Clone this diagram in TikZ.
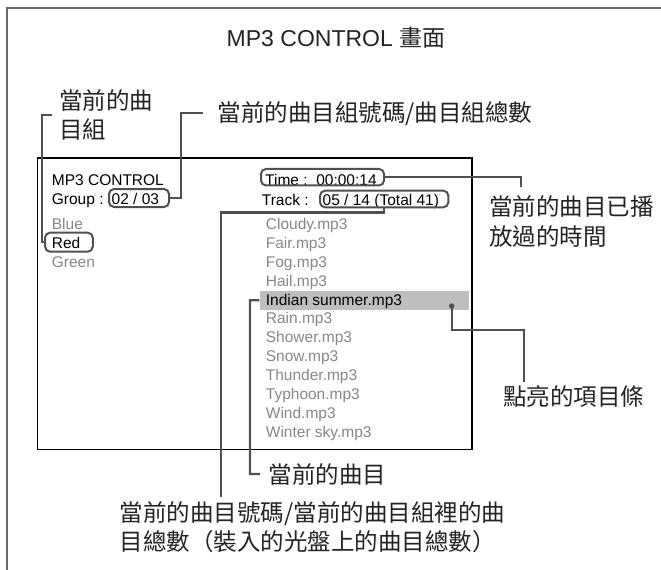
\documentclass[tikz,border=0pt]{standalone}
\usepackage{fontspec}
\setmainfont{Liberation Sans}
\newfontfamily\cjk{Noto Sans CJK TC}
\definecolor{leadc}{RGB}{80,80,80}
\definecolor{framec}{RGB}{105,105,105}
\definecolor{listgray}{RGB}{135,135,135}
\definecolor{hlgray}{RGB}{190,190,190}
\definecolor{labc}{RGB}{35,35,35}
\begin{document}
\begin{tikzpicture}[x=1pt,y=-1pt,
  lead/.style={draw=leadc, line width=2.3pt},
  scr/.style={font=\fontsize{15.5}{18}\selectfont, inner sep=0pt, anchor=base west},
  dim/.style={scr, text=listgray},
  lab/.style={font=\cjk\fontsize{23.5}{30}\selectfont, inner sep=0pt, anchor=base west, text=labc},
  rbox/.style={draw=leadc, line width=2pt, rounded corners=5pt, inner sep=0pt}]
\useasboundingbox (0,0) rectangle (661,570);
% outer frame
\draw[draw=framec, line width=2pt] (661,7.5) -- (6.5,7.5) -- (6.5,570);
% title
\node[font=\fontsize{23}{28}\selectfont, inner sep=0pt, anchor=base, text=labc] (title) at (336,46) {MP3 CONTROL {\cjk 畫面}};
% highlight bar
\node[fill=hlgray, inner sep=0pt, anchor=north west, minimum width=209.7pt, minimum height=18.3pt] (hl) at (259.3,291) {};
% screen
\node[draw=black, line width=1.5pt, inner sep=0pt, anchor=north west, minimum width=434.3pt, minimum height=291.2pt] (screen) at (36.7,157.3) {};
% screen texts, left column
\node[scr] (hdr) at (51.7,185) {MP3 CONTROL};
\node[scr] (grp) at (51.7,204.5) {Group :};
\node[scr] (grpnum) at (111.5,204.5) {02 / 03};
\node[dim] (blue) at (51.7,229) {Blue};
\node[scr] (red) at (51.7,248) {Red};
\node[dim] (green) at (51.7,267) {Green};
% right column
\node[scr] (time) at (265,185) {Time :\ \ 00:00:14};
\node[scr] (trk) at (261.7,205) {Track :};
\node[scr] (trknum) at (322.5,205) {05 / 14 (Total 41)};
\node[dim] (t1) at (265.7,229.6) {Cloudy.mp3};
\node[dim] (t2) at (265.7,248.4) {Fair.mp3};
\node[dim] (t3) at (265.7,267.3) {Fog.mp3};
\node[dim] (t4) at (265.7,286.1) {Hail.mp3};
\node[scr] (t5) at (265.7,305) {Indian summer.mp3};
\node[dim] (t6) at (265.7,323.9) {Rain.mp3};
\node[dim] (t7) at (265.7,342.7) {Shower.mp3};
\node[dim] (t8) at (265.7,361.6) {Snow.mp3};
\node[dim] (t9) at (265.7,380.4) {Thunder.mp3};
\node[dim] (t10) at (265.7,399.3) {Typhoon.mp3};
\node[dim] (t11) at (265.7,418.1) {Wind.mp3};
\node[dim] (t12) at (265.7,437) {Winter sky.mp3};
% rounded boxes
\node[rbox, minimum width=60pt, minimum height=18pt] (grpbox) at (139,198) {};
\node[rbox, minimum width=47.7pt, minimum height=19pt] (redbox) at (68.9,242.2) {};
\node[rbox, minimum width=123pt, minimum height=16.5pt] (timebox) at (322.5,177.2) {};
\node[rbox, minimum width=128.3pt, minimum height=16.6pt] (trkbox) at (384.2,199) {};
% dot
\node[circle, fill=leadc, inner sep=0pt, minimum size=5.5pt] (dot) at (451.7,306) {};
% labels
\node[lab] (l1a) at (59,109) {當前的曲};
\node[lab] (l1b) at (59,138.5) {目組};
\node[lab] (l2) at (217.3,121.7) {當前的曲目組號碼/曲目組總數};
\node[lab] (l3a) at (489,215) {當前的曲目已播};
\node[lab] (l3b) at (489,245.5) {放過的時間};
\node[lab] (l4) at (503,405) {點亮的項目條};
\node[lab] (l5) at (268.3,483.5) {當前的曲目};
\node[lab] (l6a) at (119.7,521.7) {當前的曲目號碼/當前的曲目組裡的曲};
\node[lab] (l6b) at (119.7,550.5) {目總數（裝入的光盤上的曲目總數）};
% leader ends
\coordinate (c1) at (51.7,115);
\coordinate (c2) at (202.7,113.3);
\coordinate (c3) at (520.7,187.3);
\coordinate (c4) at (524.3,381.7);
\coordinate (c5) at (260,474);
\coordinate (c6) at (220.7,496.7);
% leaders
\draw[lead] (c1) -- (42,115) |- (redbox.west);
\draw[lead] (c2) -- (181,113.3) |- (grpbox.east);
\draw[lead] (timebox.east) -| (c3);
\draw[lead] (trkbox.south) -- ++(0,4.2) -| (c6);
\draw[lead] (hl.west) -- (250,300.2) |- (c5);
\draw[lead] (dot.center) -- (451.7,330) -| (c4);
\end{tikzpicture}
\end{document}
